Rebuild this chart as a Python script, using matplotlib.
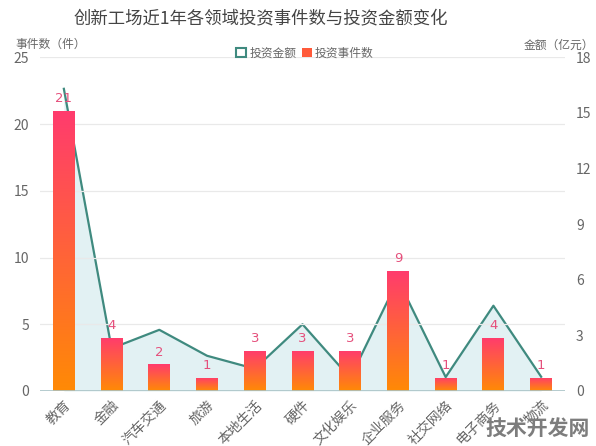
import numpy as np
import matplotlib
matplotlib.use("Agg")
import matplotlib.pyplot as plt
import matplotlib.transforms as mtransforms
from matplotlib.patches import Patch
from matplotlib.colors import LinearSegmentedColormap

plt.rcParams['font.family'] = ['Noto Sans CJK SC', 'DejaVu Sans']

categories = ['教育', '金融', '汽车交通', '旅游', '本地生活', '硬件',
              '文化娱乐', '企业服务', '社交网络', '电子商务', '物流']
counts = [21, 4, 2, 1, 3, 3, 3, 9, 1, 4, 1]
amounts = [16.3, 2.3, 3.3, 1.9, 1.2, 3.6, 0.7, 6.0, 0.75, 4.6, 0.77]
left_ticks = [0, 5, 10, 15, 20, 25]
right_ticks = [0, 3, 6, 9, 12, 15, 18]

title = '创新工场近1年各领域投资事件数与投资金额变化'
left_label = '事件数（件）'
right_label = '金额（亿元）'
legend_amount = '投资金额'
legend_count = '投资事件数'
watermark = '技术开发网'

line_color = '#3f8a7f'
fill_color = '#e2f1f3'
bar_top = '#ff3b6e'
bar_bottom = '#ff8a05'
label_color = '#e5507c'
tick_color = '#666666'
grid_color = '#e9e9e9'

fig = plt.figure(figsize=(5.96, 4.46), dpi=100)
ax = fig.add_axes([40/596, 1-391/446, 525/596, (391-57.3)/446])
ax2 = ax.twinx()
ax.set_zorder(2)
ax2.set_zorder(1)
ax.patch.set_visible(False)

x = np.arange(len(categories))

# area + line on right axis (behind the bars)
ax2.fill_between(x, amounts, 0, color=fill_color, linewidth=0, zorder=1)
ax2.plot(x, amounts, color=line_color, linewidth=1.6, zorder=2)
ax2.set_ylim(0, 18)
ax2.set_yticks(right_ticks)

# bars with per-bar vertical gradient
cmap = LinearSegmentedColormap.from_list('g', [bar_bottom, bar_top])
grad = np.linspace(0, 1, 256).reshape(-1, 1)
bars = ax.bar(x, counts, width=0.46, color='none', edgecolor='none', zorder=3)
for b in bars:
    x0, w, h = b.get_x(), b.get_width(), b.get_height()
    im = ax.imshow(grad, extent=[x0, x0 + w, 0, h], origin='lower',
                   cmap=cmap, aspect='auto', zorder=3)
    im.set_clip_path(b)
for xi, c in zip(x, counts):
    ax.annotate(str(c), (xi, c), xytext=(0, 4), textcoords='offset points',
                ha='center', va='bottom', color=label_color, fontsize=9.5,
                family=['DejaVu Sans'], zorder=5)

ax.set_xlim(-0.5, len(categories) - 0.5)
ax.set_ylim(0, 25)
ax.set_yticks(left_ticks)
ax.yaxis.grid(True, color=grid_color, linewidth=0.9)
ax.set_axisbelow(True)
ax.set_xticks(x)
ax.set_xticklabels(categories, rotation=45, ha='right', rotation_mode='anchor',
                   fontsize=7.5, color=tick_color)
shift = mtransforms.ScaledTranslation(-5/72, 0, fig.dpi_scale_trans)
for lbl in ax.get_xticklabels():
    lbl.set_transform(lbl.get_transform() + shift)

for a in (ax, ax2):
    for s in a.spines.values():
        s.set_visible(False)
    a.tick_params(length=0, colors=tick_color, labelsize=10)
ax.tick_params(axis='y', pad=8)
ax2.tick_params(axis='y', pad=8)
ax.tick_params(axis='x', pad=5)
ax.axhline(0, color='#a9c3c6', linewidth=1.2, zorder=4)

fig.text(261/596, 1-18/446, title, ha='center', va='center',
         fontsize=12.5, color='#444444')
fig.text(15/596, 1-44/446, left_label, ha='left', va='center',
         fontsize=8.5, color=tick_color)
fig.text(594/596, 1-45/446, right_label, ha='right', va='center',
         fontsize=8.5, color=tick_color)

handles = [Patch(facecolor='white', edgecolor=line_color, linewidth=1.5),
           Patch(facecolor='#ff5a3a', edgecolor='none')]
fig.legend(handles, [legend_amount, legend_count], loc='center',
           bbox_to_anchor=(305/596, 1-53/446), ncol=2, frameon=False,
           fontsize=8.5, handlelength=0.8, handleheight=0.8,
           handletextpad=0.3, columnspacing=0.5, labelcolor=tick_color)

fig.text(590/596, 1-428/446, watermark, ha='right', va='center',
         fontsize=15, fontweight='bold', color='#7d7d7d')

fig.savefig('out.png', dpi=100)
